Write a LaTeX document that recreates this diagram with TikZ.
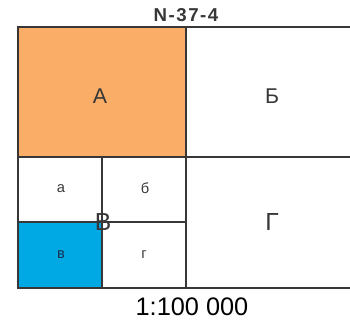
\documentclass[tikz,border=0pt]{standalone}
\usepackage{fontspec}
\setmainfont{Liberation Sans}
\definecolor{sheetorange}{RGB}{249,173,102}
\definecolor{sheetblue}{RGB}{0,168,228}
\definecolor{gridgray}{RGB}{55,55,55}
\definecolor{navytext}{RGB}{25,50,80}
\tikzset{
  gridline/.style={draw=gridgray, line width=1.3pt},
  biglabel/.style={text=gridgray, font=\fontsize{16}{18}\selectfont},
  midlabel/.style={text=gridgray, font=\fontsize{18.5}{20}\selectfont},
  smalllabel/.style={text=gridgray, font=\fontsize{11}{13}\selectfont}
}

\begin{document}
\begin{tikzpicture}[x=0.75pt,y=-0.75pt]
  \useasboundingbox (0,0) rectangle (350,320);
  % coloured sheets
  \fill [sheetorange] (18,27) rectangle (186,157);
  \fill [sheetblue] (18,222) rectangle (102,288);
  % grid
  \draw [gridline] (350,27) -- (18,27) -- (18,288) -- (350,288);
  \draw [gridline] (18,157) -- (350,157);
  \draw [gridline] (186,27) -- (186,288);
  \draw [gridline] (102,157) -- (102,288);
  \draw [gridline] (18,222) -- (186,222);
  % labels
  \node [text=gridgray, font=\bfseries\fontsize{14}{16}\selectfont\addfontfeature{LetterSpace=8}] (title) at (186,15) {N-37-4};
  \node [biglabel] (lA) at (100,96) {А};
  \node [biglabel] (lB) at (272,96) {Б};
  \node [midlabel] (lG) at (272,222) {Г};
  \node [smalllabel] (la) at (61,189) {а};
  \node [smalllabel] (lb) at (145,188) {б};
  \node [smalllabel, text=navytext] (lv) at (61,255) {в};
  \node [smalllabel] (lg) at (144,255) {г};
  \node [midlabel, fill=white, inner sep=0pt, fill opacity=0, text opacity=1] (lV) at (103,222) {В};
  \node [text=black, font=\fontsize{19}{21}\selectfont] (scale) at (192,307) {1:100 000};
\end{tikzpicture}
\end{document}
